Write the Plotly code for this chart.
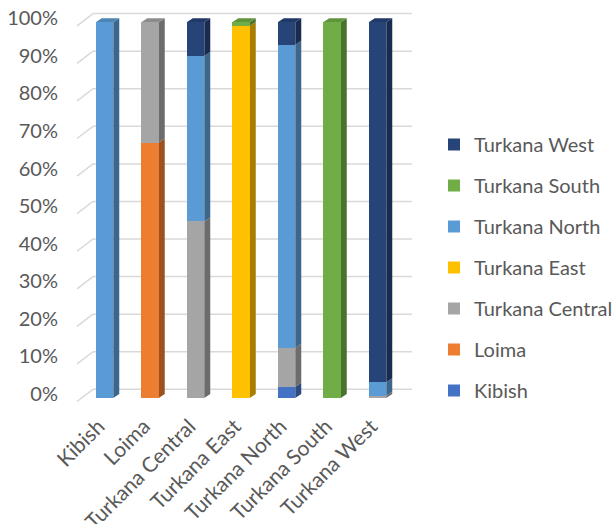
import plotly.graph_objects as go

# Districts along the category axis
categories = ["Kibish", "Loima", "Turkana Central", "Turkana East",
              "Turkana North", "Turkana South", "Turkana West"]

# Share (%) of each district's records attributed to each series
kibish = [0, 0, 0, 0, 3.0, 0, 0]
loima = [0, 68.0, 0, 0, 0, 0, 0]
turkana_central = [0, 32.0, 47.0, 0, 10.4, 0, 0.6]
turkana_east = [0, 0, 0, 99.0, 0, 0, 0]
turkana_north = [100.0, 0, 44.0, 0, 80.6, 0, 3.6]
turkana_south = [0, 0, 0, 1.0, 0, 100.0, 0]
turkana_west = [0, 0, 9.0, 0, 6.0, 0, 95.8]

series_names = ["Kibish", "Loima", "Turkana Central", "Turkana East",
                "Turkana North", "Turkana South", "Turkana West"]
series_values = [kibish, loima, turkana_central, turkana_east,
                 turkana_north, turkana_south, turkana_west]
series_colors = ["#4472C4", "#ED7D31", "#A5A5A5", "#FFC000",
                 "#5B9BD5", "#70AD47", "#264478"]

y_ticks = list(range(0, 101, 10))
y_tick_labels = [f"{v}%" for v in y_ticks]

TEXT = "#595959"
FONT = "Lato, 'Liberation Sans', Arial, sans-serif"
FS = 20

# page geometry (px)
W, H = 615, 524
PL, PR, PT, PB = 77, 412, 8, 404
px_per_unit_y = 3.757
x_left = -(104.5 - PL) / 45.5
x_right = 6 + (PR - 377.5) / 45.5
y_bottom = -(PB - 398) / px_per_unit_y
y_top = 100 + (22.3 - PT) / px_per_unit_y

BAR_W = 0.385
DX = 6 / 45.5            # depth offset of side faces (x units)
DY = 4 / px_per_unit_y   # depth offset of side faces (y units)


def shade(hex_color, f):
    h = hex_color.lstrip("#")
    r, g, b = (int(h[i:i + 2], 16) for i in (0, 2, 4))
    return "#{:02X}{:02X}{:02X}".format(int(r * f), int(g * f), int(b * f))


fig = go.Figure()
n_series = len(series_names)
for k, (name, vals, col) in enumerate(zip(series_names, series_values, series_colors)):
    fig.add_trace(go.Bar(
        x=list(range(len(categories))), y=vals, name=name,
        width=BAR_W, marker=dict(color=col, line=dict(width=0)),
        legendgroup=name, legendrank=n_series - k,
    ))

shapes = []
# floor/back-wall gridlines with a short diagonal on the left
diag_x = 16 / (PR - PL)
front_off = -3.5 / px_per_unit_y
back_off = 8.7 / px_per_unit_y
for v in y_ticks:
    shapes.append(dict(type="line", xref="paper", yref="y", x0=0, x1=diag_x,
                       y0=v + front_off, y1=v + back_off,
                       line=dict(color="#D9D9D9", width=1.5), layer="below"))
    shapes.append(dict(type="line", xref="paper", yref="y", x0=diag_x, x1=1,
                       y0=v + back_off, y1=v + back_off,
                       line=dict(color="#D9D9D9", width=1.5), layer="below"))

# side and top faces of the stacked columns, derived from the same values
for i in range(len(categories)):
    total = sum(s[i] for s in series_values)
    base = 0.0
    top_col = None
    xr = i + BAR_W / 2
    for vals, col in zip(series_values, series_colors):
        v = vals[i] / total * 100
        if v <= 0:
            continue
        y0, y1 = base, base + v
        shapes.append(dict(
            type="path", xref="x", yref="y",
            path=f"M {xr},{y0} L {xr + DX},{y0 + DY} L {xr + DX},{y1 + DY} L {xr},{y1} Z",
            fillcolor=shade(col, 0.66), line=dict(width=0), layer="below"))
        base = y1
        top_col = col
    xl = i - BAR_W / 2
    shapes.append(dict(
        type="path", xref="x", yref="y",
        path=f"M {xl},{base} L {xl + DX},{base + DY} L {xr + DX},{base + DY} L {xr},{base} Z",
        fillcolor=shade(top_col, 0.85), line=dict(width=0), layer="below"))

fig.update_layout(
    width=W, height=H,
    margin=dict(l=PL, r=W - PR, t=PT, b=H - PB, autoexpand=False),
    paper_bgcolor="white", plot_bgcolor="rgba(0,0,0,0)",
    barmode="stack",
    font=dict(family=FONT, size=FS, color=TEXT),
    showlegend=True,
    legend=dict(
        x=(434 - PL) / (PR - PL), xanchor="left",
        y=1 - (125 - PT) / (PB - PT), yanchor="top",
        traceorder="grouped", tracegroupgap=12,
        font=dict(family=FONT, size=FS, color=TEXT),
        bgcolor="rgba(0,0,0,0)",
    ),
    shapes=shapes,
    xaxis=dict(
        range=[x_left, x_right], tickmode="array",
        tickvals=list(range(len(categories))), ticktext=categories,
        tickangle=-45, showgrid=False, zeroline=False, showline=False,
        ticks="", automargin=False, ticklabelstandoff=5,
        ticklabelshift=-6,
        tickfont=dict(family=FONT, size=21, color=TEXT),
    ),
    yaxis=dict(
        range=[y_bottom, y_top], tickmode="array", tickvals=y_ticks,
        ticktext=y_tick_labels, showgrid=False, zeroline=False,
        showline=False, ticks="", automargin=False, ticklabelstandoff=18,
        ticklabelshift=-4,
        tickfont=dict(family=FONT, size=FS, color=TEXT),
    ),
)

fig.write_html("out.html")
